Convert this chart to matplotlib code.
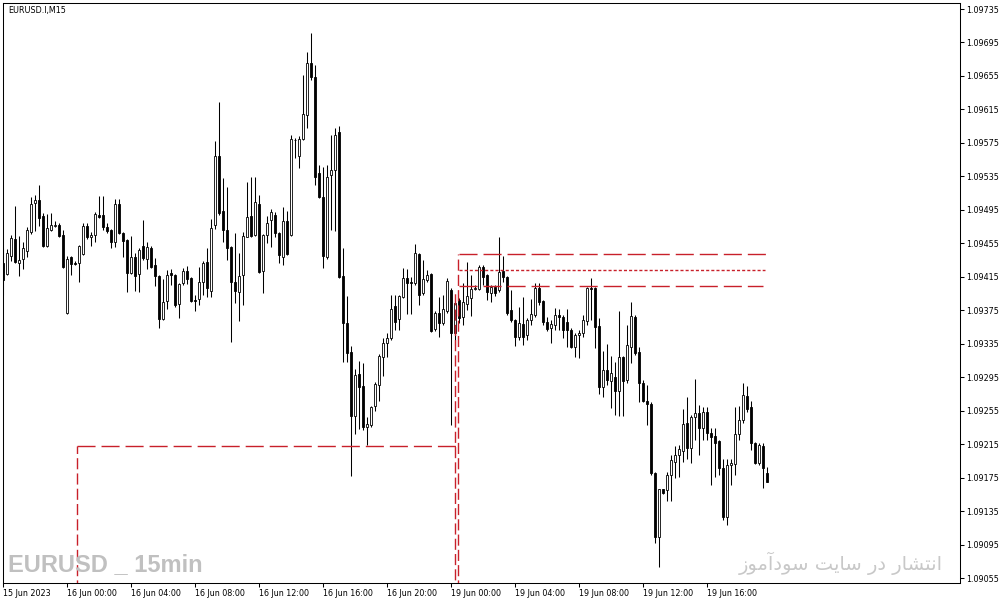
import matplotlib
matplotlib.use('Agg')
import matplotlib.pyplot as plt
import numpy as np

# EURUSD.I M15, barras desde 15 Jun 20:00 hasta 19 Jun 19:45
opens = np.array([
    1.09432, 1.09418, 1.09440, 1.09460, 1.09432, 1.09436, 1.09446, 1.09469, 1.09503, 1.09507,
    1.09488, 1.09452, 1.09471, 1.09476, 1.09477, 1.09465, 1.09372, 1.09439, 1.09432, 1.09432,
    1.09442, 1.09476, 1.09463, 1.09465, 1.09489, 1.09489, 1.09475, 1.09471, 1.09457, 1.09502,
    1.09467, 1.09459, 1.09420, 1.09439, 1.09418, 1.09452, 1.09436, 1.09449, 1.09429, 1.09416,
    1.09365, 1.09386, 1.09420, 1.09417, 1.09383, 1.09408, 1.09422, 1.09414, 1.09387, 1.09388,
    1.09409, 1.09433, 1.09398, 1.09477, 1.09559, 1.09494, 1.09471, 1.09451, 1.09409, 1.09397,
    1.09417, 1.09463, 1.09488, 1.09465, 1.09502, 1.09422, 1.09465, 1.09483, 1.09489, 1.09467,
    1.09439, 1.09482, 1.09465, 1.09578, 1.09559, 1.09580, 1.09608, 1.09671, 1.09654, 1.09539,
    1.09510, 1.09439, 1.09537, 1.09543, 1.09588, 1.09416, 1.09360, 1.09325, 1.09249, 1.09299,
    1.09285, 1.09236, 1.09238, 1.09261, 1.09286, 1.09319, 1.09336, 1.09342, 1.09380, 1.09365,
    1.09391, 1.09414, 1.09409, 1.09408, 1.09442, 1.09396, 1.09411, 1.09418, 1.09353, 1.09372,
    1.09360, 1.09374, 1.09399, 1.09348, 1.09387, 1.09367, 1.09382, 1.09390, 1.09401, 1.09400,
    1.09427, 1.09417, 1.09396, 1.09403, 1.09399, 1.09422, 1.09415, 1.09375, 1.09363, 1.09343,
    1.09359, 1.09345, 1.09363, 1.09369, 1.09402, 1.09386, 1.09361, 1.09354, 1.09357, 1.09369,
    1.09367, 1.09361, 1.09351, 1.09331, 1.09345, 1.09348, 1.09362, 1.09402, 1.09402, 1.09356,
    1.09283, 1.09304, 1.09291, 1.09295, 1.09279, 1.09319, 1.09292, 1.09331, 1.09367, 1.09325,
    1.09288, 1.09267, 1.09263, 1.09181, 1.09104, 1.09161, 1.09160, 1.09178, 1.09194, 1.09202,
    1.09207, 1.09240, 1.09210, 1.09247, 1.09252, 1.09234, 1.09253, 1.09228, 1.09225, 1.09219,
    1.09186, 1.09128, 1.09190, 1.09191, 1.09227, 1.09244, 1.09273, 1.09259, 1.09216, 1.09193,
    1.09213, 1.09180])
highs = np.array([
    1.09449, 1.09448, 1.09465, 1.09500, 1.09464, 1.09457, 1.09475, 1.09510, 1.09513, 1.09525,
    1.09491, 1.09490, 1.09491, 1.09482, 1.09479, 1.09471, 1.09440, 1.09440, 1.09434, 1.09453,
    1.09479, 1.09479, 1.09469, 1.09492, 1.09512, 1.09512, 1.09479, 1.09472, 1.09508, 1.09508,
    1.09468, 1.09460, 1.09464, 1.09443, 1.09449, 1.09483, 1.09457, 1.09452, 1.09437, 1.09417,
    1.09412, 1.09423, 1.09424, 1.09418, 1.09408, 1.09426, 1.09428, 1.09415, 1.09393, 1.09427,
    1.09434, 1.09449, 1.09484, 1.09577, 1.09624, 1.09533, 1.09522, 1.09452, 1.09467, 1.09443,
    1.09469, 1.09528, 1.09534, 1.09534, 1.09513, 1.09466, 1.09488, 1.09496, 1.09492, 1.09468,
    1.09498, 1.09494, 1.09584, 1.09581, 1.09583, 1.09656, 1.09684, 1.09706, 1.09668, 1.09549,
    1.09546, 1.09549, 1.09584, 1.09593, 1.09595, 1.09449, 1.09392, 1.09332, 1.09305, 1.09314,
    1.09312, 1.09247, 1.09261, 1.09289, 1.09323, 1.09342, 1.09348, 1.09393, 1.09393, 1.09393,
    1.09426, 1.09424, 1.09415, 1.09454, 1.09443, 1.09435, 1.09423, 1.09420, 1.09374, 1.09391,
    1.09393, 1.09414, 1.09402, 1.09387, 1.09390, 1.09408, 1.09433, 1.09417, 1.09405, 1.09429,
    1.09429, 1.09418, 1.09405, 1.09405, 1.09463, 1.09440, 1.09416, 1.09399, 1.09364, 1.09379,
    1.09391, 1.09366, 1.09388, 1.09408, 1.09408, 1.09387, 1.09367, 1.09363, 1.09378, 1.09377,
    1.09369, 1.09377, 1.09354, 1.09348, 1.09351, 1.09369, 1.09403, 1.09414, 1.09403, 1.09366,
    1.09326, 1.09335, 1.09320, 1.09313, 1.09374, 1.09320, 1.09357, 1.09385, 1.09369, 1.09331,
    1.09292, 1.09286, 1.09265, 1.09182, 1.09162, 1.09162, 1.09182, 1.09202, 1.09213, 1.09214,
    1.09257, 1.09271, 1.09250, 1.09293, 1.09262, 1.09259, 1.09259, 1.09234, 1.09234, 1.09220,
    1.09197, 1.09197, 1.09197, 1.09259, 1.09261, 1.09288, 1.09284, 1.09267, 1.09218, 1.09216,
    1.09216, 1.09188])
lows = np.array([
    1.09393, 1.09417, 1.09434, 1.09432, 1.09416, 1.09424, 1.09439, 1.09466, 1.09470, 1.09476,
    1.09451, 1.09451, 1.09470, 1.09475, 1.09463, 1.09426, 1.09371, 1.09417, 1.09429, 1.09409,
    1.09441, 1.09460, 1.09452, 1.09457, 1.09485, 1.09471, 1.09467, 1.09449, 1.09451, 1.09466,
    1.09439, 1.09397, 1.09418, 1.09398, 1.09397, 1.09435, 1.09424, 1.09426, 1.09404, 1.09354,
    1.09363, 1.09377, 1.09405, 1.09379, 1.09366, 1.09405, 1.09406, 1.09385, 1.09374, 1.09381,
    1.09393, 1.09391, 1.09391, 1.09472, 1.09489, 1.09457, 1.09435, 1.09337, 1.09384, 1.09362,
    1.09381, 1.09462, 1.09463, 1.09464, 1.09420, 1.09396, 1.09455, 1.09451, 1.09463, 1.09432,
    1.09429, 1.09441, 1.09464, 1.09557, 1.09545, 1.09578, 1.09593, 1.09650, 1.09525, 1.09509,
    1.09426, 1.09436, 1.09471, 1.09470, 1.09414, 1.09313, 1.09313, 1.09177, 1.09227, 1.09233,
    1.09232, 1.09214, 1.09235, 1.09255, 1.09267, 1.09296, 1.09319, 1.09340, 1.09351, 1.09351,
    1.09390, 1.09370, 1.09371, 1.09405, 1.09381, 1.09393, 1.09409, 1.09349, 1.09350, 1.09343,
    1.09357, 1.09372, 1.09238, 1.09334, 1.09360, 1.09357, 1.09375, 1.09368, 1.09399, 1.09399,
    1.09405, 1.09387, 1.09385, 1.09392, 1.09397, 1.09409, 1.09369, 1.09361, 1.09332, 1.09340,
    1.09334, 1.09340, 1.09357, 1.09367, 1.09381, 1.09357, 1.09350, 1.09336, 1.09351, 1.09351,
    1.09342, 1.09331, 1.09330, 1.09319, 1.09318, 1.09343, 1.09357, 1.09363, 1.09330, 1.09275,
    1.09271, 1.09286, 1.09258, 1.09250, 1.09249, 1.09249, 1.09288, 1.09312, 1.09322, 1.09265,
    1.09265, 1.09238, 1.09178, 1.09097, 1.09068, 1.09155, 1.09147, 1.09147, 1.09175, 1.09176,
    1.09194, 1.09197, 1.09193, 1.09220, 1.09202, 1.09220, 1.09220, 1.09166, 1.09176, 1.09178,
    1.09124, 1.09118, 1.09166, 1.09178, 1.09220, 1.09240, 1.09253, 1.09208, 1.09191, 1.09190,
    1.09163, 1.09170])
closes = np.array([
    1.09411, 1.09443, 1.09461, 1.09433, 1.09435, 1.09449, 1.09471, 1.09502, 1.09507, 1.09485,
    1.09452, 1.09473, 1.09477, 1.09477, 1.09464, 1.09427, 1.09436, 1.09430, 1.09430, 1.09452,
    1.09476, 1.09463, 1.09465, 1.09490, 1.09486, 1.09475, 1.09470, 1.09457, 1.09502, 1.09467,
    1.09458, 1.09420, 1.09439, 1.09416, 1.09447, 1.09437, 1.09451, 1.09427, 1.09416, 1.09365,
    1.09385, 1.09417, 1.09417, 1.09381, 1.09406, 1.09422, 1.09412, 1.09386, 1.09386, 1.09409,
    1.09432, 1.09402, 1.09473, 1.09559, 1.09491, 1.09471, 1.09449, 1.09409, 1.09398, 1.09416,
    1.09464, 1.09486, 1.09464, 1.09504, 1.09421, 1.09465, 1.09479, 1.09492, 1.09467, 1.09441,
    1.09482, 1.09442, 1.09580, 1.09579, 1.09580, 1.09610, 1.09671, 1.09654, 1.09534, 1.09510,
    1.09440, 1.09534, 1.09543, 1.09584, 1.09415, 1.09360, 1.09324, 1.09249, 1.09298, 1.09283,
    1.09236, 1.09239, 1.09259, 1.09287, 1.09320, 1.09336, 1.09342, 1.09377, 1.09361, 1.09392,
    1.09414, 1.09408, 1.09408, 1.09443, 1.09393, 1.09412, 1.09417, 1.09350, 1.09372, 1.09360,
    1.09377, 1.09410, 1.09348, 1.09384, 1.09366, 1.09385, 1.09392, 1.09400, 1.09402, 1.09427,
    1.09415, 1.09397, 1.09403, 1.09396, 1.09421, 1.09415, 1.09372, 1.09363, 1.09343, 1.09360,
    1.09343, 1.09363, 1.09370, 1.09402, 1.09385, 1.09361, 1.09353, 1.09359, 1.09369, 1.09367,
    1.09351, 1.09351, 1.09331, 1.09345, 1.09348, 1.09363, 1.09402, 1.09401, 1.09355, 1.09283,
    1.09304, 1.09292, 1.09300, 1.09278, 1.09319, 1.09290, 1.09333, 1.09368, 1.09324, 1.09288,
    1.09267, 1.09263, 1.09181, 1.09104, 1.09161, 1.09157, 1.09178, 1.09196, 1.09202, 1.09209,
    1.09239, 1.09210, 1.09247, 1.09252, 1.09234, 1.09253, 1.09228, 1.09223, 1.09216, 1.09186,
    1.09128, 1.09190, 1.09193, 1.09227, 1.09244, 1.09274, 1.09257, 1.09216, 1.09193, 1.09214,
    1.09186, 1.09170])

# etiquetas del eje de tiempo (cada 16 barras)
time_ticks = np.arange(0, 192, 16)
time_labels = ['15 Jun 2023', '16 Jun 00:00', '16 Jun 04:00', '16 Jun 08:00', '16 Jun 12:00',
               '16 Jun 16:00', '16 Jun 20:00', '19 Jun 00:00', '19 Jun 04:00', '19 Jun 08:00',
               '19 Jun 12:00', '19 Jun 16:00']
price_ticks = np.round(np.arange(1.09055, 1.09736, 0.0004), 5)

# objetos rojos dibujados en el grafico (nivel, barra inicio, barra fin)
low_level = 1.09213
low_start, low_end = 18.4, 113.2
range_top, range_mid, range_bot = 1.09442, 1.09423, 1.09404
range_start = 113.9
range_ends = [190.9, 190.4, 189.9]
vline_a, vline_b = 113.8, 113.05
vline_b_top = 1.09399

watermark_fa = 'انتشار در سایت سودآموز'

# formas de presentacion para escribir el farsi de derecha a izquierda
FORMS = {
    'ا': ('\uFE8D', '\uFE8E', None, None),
    'آ': ('\uFE81', '\uFE82', None, None),
    'د': ('\uFEA9', '\uFEAA', None, None),
    'ر': ('\uFEAD', '\uFEAE', None, None),
    'ز': ('\uFEAF', '\uFEB0', None, None),
    'و': ('\uFEED', '\uFEEE', None, None),
    'ن': ('\uFEE5', '\uFEE6', '\uFEE7', '\uFEE8'),
    'ت': ('\uFE95', '\uFE96', '\uFE97', '\uFE98'),
    'ش': ('\uFEB5', '\uFEB6', '\uFEB7', '\uFEB8'),
    'س': ('\uFEB1', '\uFEB2', '\uFEB3', '\uFEB4'),
    'م': ('\uFEE1', '\uFEE2', '\uFEE3', '\uFEE4'),
    'ی': ('\uFBFC', '\uFBFD', '\uFBFE', '\uFBFF'),
}


def shape_rtl(text):
    out = []
    for k, ch in enumerate(text):
        f = FORMS.get(ch)
        if f is None:
            out.append(ch)
            continue
        prev = text[k - 1] if k > 0 else ' '
        nxt = text[k + 1] if k + 1 < len(text) else ' '
        j_prev = prev in FORMS and FORMS[prev][2] is not None
        j_next = f[2] is not None and nxt in FORMS
        if j_prev and j_next:
            out.append(f[3])
        elif j_prev:
            out.append(f[1])
        elif j_next:
            out.append(f[2])
        else:
            out.append(f[0])
    return ''.join(reversed(out))


W, H = 1006, 605
fig = plt.figure(figsize=(W / 100, H / 100), dpi=100)
ax = fig.add_axes([3 / W, 22 / H, 957 / W, 580 / H])

x = np.arange(len(opens))
up = closes >= opens
ax.vlines(x, lows, highs, color='black', lw=0.75, zorder=2)
body_bot = np.minimum(opens, closes)
body_h = np.maximum(np.abs(closes - opens), 0.000002)
ax.bar(x, body_h, 0.55, bottom=body_bot, color=np.where(up, 'white', 'black'),
       edgecolor='black', linewidth=0.6, zorder=3)

red = '#c8202a'
long_dash = (13, 4.3)
ax.hlines(low_level, low_start, low_end, color=red, lw=1.0, linestyles=[(0, long_dash)], zorder=4)
ax.vlines(low_start, 1.0904, low_level, color=red, lw=1.0, linestyles=[(0, (8, 3))], zorder=4)
ax.hlines(range_top, range_start, range_ends[0], color=red, lw=1.0, linestyles=[(0, long_dash)], zorder=4)
ax.hlines(range_mid, range_start, range_ends[1], color=red, lw=1.0, linestyles=[(0, (2.2, 1.5))], zorder=4)
ax.hlines(range_bot, range_start, range_ends[2], color=red, lw=1.0, linestyles=[(0, long_dash)], zorder=4)
ax.vlines(vline_a, 1.0904, range_top, color=red, lw=1.0, linestyles=[(0, (8, 3))], zorder=4)
ax.vlines(vline_b, 1.0904, vline_b_top, color=red, lw=1.0, linestyles=[(3, (8, 3))], zorder=4)

ax.set_xlim(-0.075, 239.2)
ax.set_ylim(1.090491, 1.097422)

ax.set_xticks(time_ticks)
ax.set_xticklabels(time_labels, ha='left')
ax.set_yticks(price_ticks)
ax.set_yticklabels([f'{p:.5f}' for p in price_ticks])
ax.yaxis.tick_right()
ax.tick_params(axis='both', length=3, width=0.75, pad=1.5, labelsize=5.8, colors='black')
for s in ax.spines.values():
    s.set_linewidth(0.75)

fig.text(8 / W, 1 - 11 / H, 'EURUSD.I,M15', fontsize=5.8, va='center', ha='left')
fig.text(8 / W, 1 - 565 / H, 'EURUSD _ 15min', fontsize=17, fontweight='bold',
         family=['Liberation Sans'], color='#c0c0c0', va='center', ha='left')
fig.text(943 / W, 1 - 563 / H, shape_rtl(watermark_fa), fontsize=14,
         family=['DejaVu Sans'], color='#c8c8c8', va='center', ha='right')

fig.savefig('out.png', dpi=100)
